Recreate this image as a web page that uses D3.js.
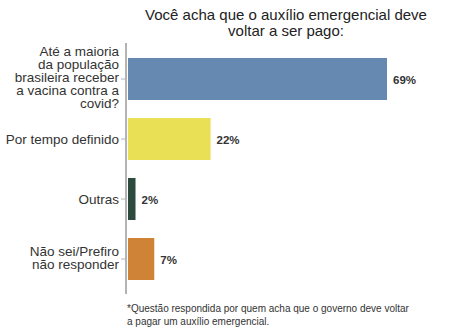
<!DOCTYPE html>
<html><head><meta charset="utf-8">
<script src="https://cdn.jsdelivr.net/npm/d3@7"></script>
<style>body{margin:0;background:#fff;}svg{display:block;font-family:"Liberation Sans",Arial,sans-serif;}</style>
</head><body>
<script>
const categories = [
  ["Até a maioria", "da população", "brasileira receber", "a vacina contra a", "covid?"],
  ["Por tempo definido"],
  ["Outras"],
  ["Não sei/Prefiro", "não responder"]
];
const values = [69, 22, 2, 7];
const valueLabels = ["69%", "22%", "2%", "7%"];
const colors = ["#6689b1", "#e9e055", "#2c4b3e", "#cf8337"];
const titleLines = ["Você acha que o auxílio emergencial deve", "voltar a ser pago:"];
const captionLines = ["*Questão respondida por quem acha que o governo deve voltar", "a pagar um auxílio emergencial."];

const W = 455, H = 335;
const svg = d3.select("body").append("svg").attr("width", W).attr("height", H);
const x0 = 127, axTop = 43, axBottom = 295;
const ids = d3.range(values.length);
const y = d3.scaleBand().domain(ids).range([49, 289]).paddingInner(0.3).paddingOuter(0.15);
const x = d3.scaleLinear().domain([0, 69]).range([x0 + 1, 387]);

svg.selectAll("rect.bar").data(ids).join("rect")
  .attr("x", x(0)).attr("y", i => y(i)).attr("width", i => x(values[i]) - x(0))
  .attr("height", y.bandwidth()).attr("fill", i => colors[i]);

svg.append("line").attr("x1", x0 - 1).attr("x2", x0 - 1).attr("y1", axTop).attr("y2", axBottom - 1)
  .attr("stroke", "#b3b3b3").attr("stroke-width", 2);

ids.forEach(i => {
  const cy = y(i) + y.bandwidth() / 2;
  svg.append("line").attr("x1", x0 - 6).attr("x2", x0 - 2).attr("y1", cy).attr("y2", cy).attr("stroke", "#b3b3b3").attr("stroke-width", 1);
  const lines = categories[i];
  const lh = 13;
  const off = lines.length > 1 ? 3 : 4.5;
  const t = svg.append("text").attr("text-anchor", "end").attr("font-size", 13.5).attr("fill", "#333");
  lines.forEach((l, k) => {
    t.append("tspan").attr("x", x0 - 8).attr("y", cy + (k - (lines.length - 1) / 2) * lh + off).text(l);
  });
  svg.append("text").attr("x", x(values[i]) + 6).attr("y", cy + 4.5).attr("font-size", 11.5)
    .attr("font-weight", "bold").attr("fill", "#333").text(valueLabels[i]);
});

titleLines.forEach((l, k) => {
  svg.append("text").attr("x", 286).attr("y", 20 + k * 15.5).attr("text-anchor", "middle")
    .attr("font-size", 15).attr("fill", "#222").text(l);
});
captionLines.forEach((l, k) => {
  svg.append("text").attr("x", 127).attr("y", 312 + k * 13).attr("font-size", 10)
    .attr("fill", "#333").text(l);
});
</script>
</body></html>
